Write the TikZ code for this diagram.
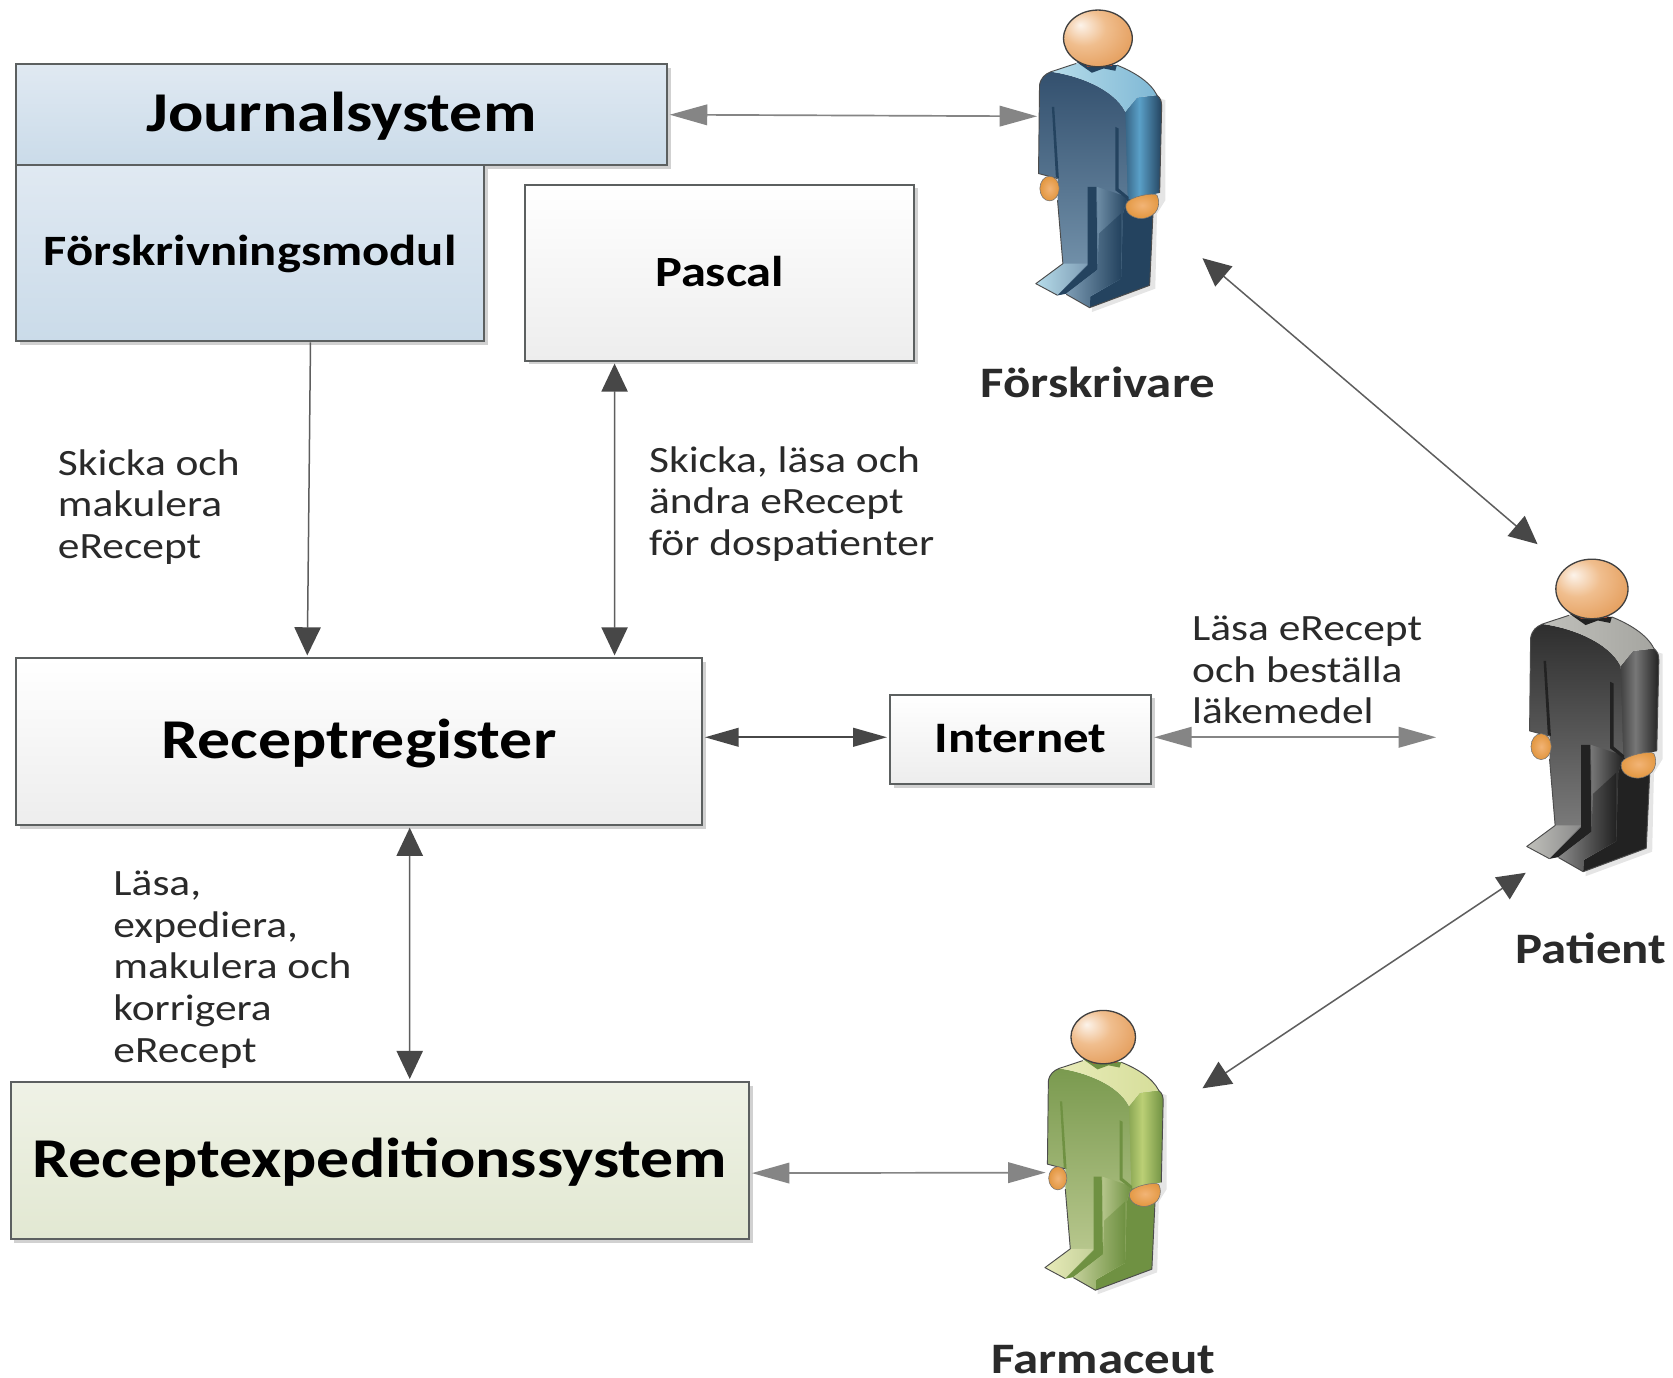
\documentclass[tikz,border=0pt]{standalone}
\usepackage{fontspec}
\setmainfont[FakeStretch=1.17]{Carlito}
\usetikzlibrary{arrows.meta,shadows}
\definecolor{edgec}{HTML}{5C6060}
\definecolor{darkarr}{HTML}{474747}
\definecolor{darkline}{HTML}{5E5E5E}
\definecolor{grayarr}{HTML}{858585}
\definecolor{txt}{HTML}{2A2A2A}
\definecolor{bluetop}{HTML}{E0E9F2}
\definecolor{bluebot}{HTML}{CADBE9}
\definecolor{graybot}{HTML}{EDEDED}
\definecolor{greentop}{HTML}{EFF2E6}
\definecolor{greenbot}{HTML}{E2E8D2}
\definecolor{headc}{HTML}{E0934C}
\definecolor{headm}{HTML}{F0BE8E}
\definecolor{headl}{HTML}{FCF3EA}
\definecolor{handc}{HTML}{E2963F}
\definecolor{handd}{HTML}{F2B476}
\definecolor{neckc}{HTML}{D8502A}
\definecolor{bBack}{HTML}{24435F}
\definecolor{bTop}{HTML}{33506E}
\definecolor{bBot}{HTML}{7E9DB5}
\definecolor{bArm}{HTML}{5AA0C8}
\definecolor{bShD}{HTML}{7FB8D5}
\definecolor{bShL}{HTML}{B6DCEA}
\definecolor{kBack}{HTML}{222222}
\definecolor{kTop}{HTML}{2E2E2E}
\definecolor{kBot}{HTML}{8A8A8A}
\definecolor{kArm}{HTML}{777777}
\definecolor{kShD}{HTML}{A5A5A0}
\definecolor{kShL}{HTML}{C0C0BB}
\definecolor{gBack}{HTML}{6F9142}
\definecolor{gTop}{HTML}{7A9A4F}
\definecolor{gBot}{HTML}{C4D09A}
\definecolor{gArm}{HTML}{BBCF75}
\definecolor{gShD}{HTML}{D6DE9A}
\definecolor{gShL}{HTML}{E8EBB8}
\pgfdeclareradialshading{headshade}{\pgfpoint{-13bp}{12bp}}{color(0bp)=(headl); color(16bp)=(headm); color(42bp)=(headc); color(75bp)=(headc)}
\newcommand{\fs}[2]{\fontsize{#1}{#2}\selectfont}
\newcommand{\nudge}[2]{\raisebox{#1}[\height][\depth]{#2}}
\tikzset{
  x=0.02cm,y=-0.02cm,
  boxbase/.style={draw=edgec,line width=1.1pt,inner sep=0pt,text=black,
    drop shadow={shadow xshift=2pt,shadow yshift=-2pt,fill=black,opacity=.18}},
  bluebox/.style={boxbase,top color=bluetop,bottom color=bluebot},
  graybox/.style={boxbase,top color=white,bottom color=graybot},
  greenbox/.style={boxbase,top color=greentop,bottom color=greenbot},
  arrd/.style={draw=darkline,line width=.8pt,{Triangle[length=15pt,width=14pt,color=darkarr]}-{Triangle[length=15pt,width=14pt,color=darkarr]}},
  arrds/.style={draw=darkline,line width=.8pt,-{Triangle[length=15pt,width=14pt,color=darkarr]}},
  arrk/.style={draw=darkarr,line width=.9pt,{Triangle[length=18pt,width=10pt,color=darkarr]}-{Triangle[length=18pt,width=10pt,color=darkarr]}},
  arrg/.style={draw=grayarr,line width=.9pt,{Triangle[length=20pt,width=11pt,color=grayarr]}-{Triangle[length=20pt,width=11pt,color=grayarr]}},
  lab/.style={align=left,anchor=north west,inner sep=0pt,text=txt,font=\fs{19.8}{22.2}},
  captext/.style={inner sep=0pt,text=txt,font=\fs{23.2}{26}\bfseries},
}
% #1 x, #2 y of head centre, #3 scale, #4 back, #5 body top, #6 body bottom, #7 arm mid, #8 shoulder dark, #9 shoulder light
\newcommand{\person}[9]{%
\begin{scope}[shift={(#1,#2)},x=#3*0.00625cm,y=-#3*0.00625cm]
\begin{scope}[shift={(-293,-115)}]
  \fill[black,opacity=.10] (275,935) -- (465,865) -- (470,640) -- (495,600) -- (495,300) -- (300,240) -- cycle;
  \fill[#4] (345,560) -- (458,640) -- (448,855) -- (268,922) -- (196,880) -- (300,700) -- cycle;
  \shade[left color=#4,right color=#4,middle color=#7] (375,335) -- (410,292) -- (470,285) .. controls (482,295) and (484,305) .. (484,320) -- (478,578) -- (385,598) -- (350,568) -- cycle;
  \shade[top color=#5,bottom color=#6] (118,255) .. controls (122,232) and (135,222) .. (152,215)
     .. controls (230,225) and (340,265) .. (375,335) -- (382,590) -- (368,640) -- (362,835) -- (270,888) -- (268,920) -- (198,880) -- (172,885) -- (107,850) -- (188,790) -- (172,600) -- (172,535) -- (115,520) -- cycle;
  \shade[left color=#6,right color=#4] (290,560) -- (382,590) -- (368,640) -- (362,835) -- (270,888) -- (296,810) -- cycle;
  \shade[left color=#9,right color=#8] (152,215) -- (228,190) -- (350,195) .. controls (400,215) and (450,245) .. (470,285) -- (410,292) -- (375,335) .. controls (340,265) and (230,225) .. (152,215) -- cycle;
  \fill[#4] (228,185) -- (350,195) -- (345,212) -- (310,205) -- (275,218) -- cycle;
  \fill[neckc] (240,180) .. controls (260,205) and (320,205) .. (345,180) -- (335,197) -- (262,200) -- cycle;
  \fill[#4] (155,320) -- (162,320) -- (176,535) -- (167,530) -- cycle;
  \fill[#4] (345,380) -- (355,385) -- (355,565) -- (385,590) -- (385,600) -- (345,570) -- cycle;
  \shade[left color=#9,right color=#6] (107,850) -- (188,790) -- (262,790) -- (172,884) -- cycle;
  \fill[#4] (172,885) -- (262,795) -- (262,560) -- (288,560) -- (292,808) -- (198,880) -- cycle;
  \shade[left color=#6,right color=#4] (198,880) -- (292,808) -- (296,700) -- (362,640) -- (362,835) -- (270,888) -- (268,920) -- cycle;
  \draw[black!70,line width=.5pt,line join=round] (118,255) .. controls (122,232) and (135,222) .. (152,215) -- (228,190) (350,195) .. controls (400,215) and (450,245) .. (470,285) .. controls (482,295) and (484,305) .. (484,320) -- (478,578)
    (458,640) -- (448,855) -- (268,922) -- (198,882) (172,885) -- (107,850) -- (188,790) -- (172,600) (172,535) -- (115,520) -- (118,255);
  \shade[inner color=handd,outer color=handc,draw=black!55,line width=.3pt] (148,565) ellipse (29 and 37);
  \shade[inner color=handd,outer color=handc,draw=black!55,line width=.3pt] (378,610) .. controls (385,590) and (460,575) .. (470,585) .. controls (482,610) and (475,650) .. (425,655) .. controls (395,655) and (370,635) .. (378,610) -- cycle;
  \shade[shading=headshade,draw=black!75,line width=.7pt] (293,115) ellipse (103 and 85);
\end{scope}
\end{scope}}
\begin{document}
\begin{tikzpicture}
\useasboundingbox (0,0) rectangle (1568,1291);
\fill[white] (0,0) rectangle (1568,1291);
% people
\person{1029}{36}{1}{bBack}{bTop}{bBot}{bArm}{bShD}{bShL}
\person{1492}{552}{1.05}{kBack}{kTop}{kBot}{kArm}{kShD}{kShL}
\person{1034}{972}{0.94}{gBack}{gTop}{gBot}{gArm}{gShD}{gShL}
% boxes
\node[bluebox,minimum width=610*0.02cm,minimum height=95*0.02cm,font=\fs{30}{36}\bfseries] (jou) at (320,107.5) {\nudge{-0.6pt}{Journalsystem}};
\node[bluebox,minimum width=439*0.02cm,minimum height=165*0.02cm,font=\fs{23.1}{26}\bfseries] (mod) at (234.5,237.5) {\nudge{-0.5pt}{Förskrivningsmodul}};
\node[graybox,minimum width=365*0.02cm,minimum height=165*0.02cm,font=\fs{23}{26}\bfseries] (pas) at (674.5,255.5) {\nudge{0.6pt}{Pascal}};
\node[graybox,minimum width=643*0.02cm,minimum height=156*0.02cm,font=\fs{30}{36}\bfseries] (reg) at (336.5,695) {\nudge{-1.1pt}{Receptregister}};
\node[graybox,minimum width=245*0.02cm,minimum height=84*0.02cm,font=\fs{23.2}{26}\bfseries] (int) at (956.5,693) {\nudge{0.5pt}{Internet}};
\node[greenbox,minimum width=692*0.02cm,minimum height=147*0.02cm,font=\fs{30}{36}\bfseries] (exp) at (356,1087.5) {\nudge{-1.1pt}{Receptexpeditionssystem}};
% labels
\node[lab] (l1) at (54,421) {Skicka och\\makulera\\eRecept};
\node[lab] (l2) at (608,418) {Skicka, läsa och\\ändra eRecept\\för dospatienter};
\node[lab] (l3) at (1117,577) {Läsa eRecept\\och beställa\\läkemedel};
\node[lab] (l4) at (106,816) {Läsa,\\expediera,\\makulera och\\korrigera\\eRecept};
\node[captext] (c1) at (1029,358) {Förskrivare};
\node[captext] (c2) at (1491,889) {Patient};
\node[captext] (c3) at (1034,1274) {Farmaceut};
% free connector ends
\coordinate (fa) at (972,109);
\coordinate (fb) at (1127,242);
\coordinate (pa) at (1441,510);
\coordinate (pb) at (1346,691);
\coordinate (pc) at (1430,818);
\coordinate (ma) at (1127,1020);
\coordinate (mb) at (980,1099);
% connectors
\draw[arrg,shorten <=1pt] (jou.east) -- (fa);
\draw[arrds] ([xshift=56.5*0.02cm]mod.south) -- ([xshift=-48.5*0.02cm,yshift=1pt]reg.north);
\draw[arrd,shorten <=1pt,shorten >=1pt] ([xshift=-98.5*0.02cm]pas.south) -- ([xshift=239.5*0.02cm]reg.north);
\draw[arrk,shorten <=1pt,shorten >=1pt] ([yshift=4*0.02cm]reg.east) -- ([yshift=2*0.02cm]int.west);
\draw[arrg,shorten <=1pt] ([yshift=2*0.02cm]int.east) -- (pb);
\draw[arrd,shorten <=1pt,shorten >=1pt] ([xshift=47.5*0.02cm]reg.south) -- ([xshift=28*0.02cm]exp.north);
\draw[arrg,shorten <=1pt] ([yshift=-12*0.02cm]exp.east) -- (mb);
\draw[arrd] (fb) -- (pa);
\draw[arrd] (pc) -- (ma);
\end{tikzpicture}
\end{document}
